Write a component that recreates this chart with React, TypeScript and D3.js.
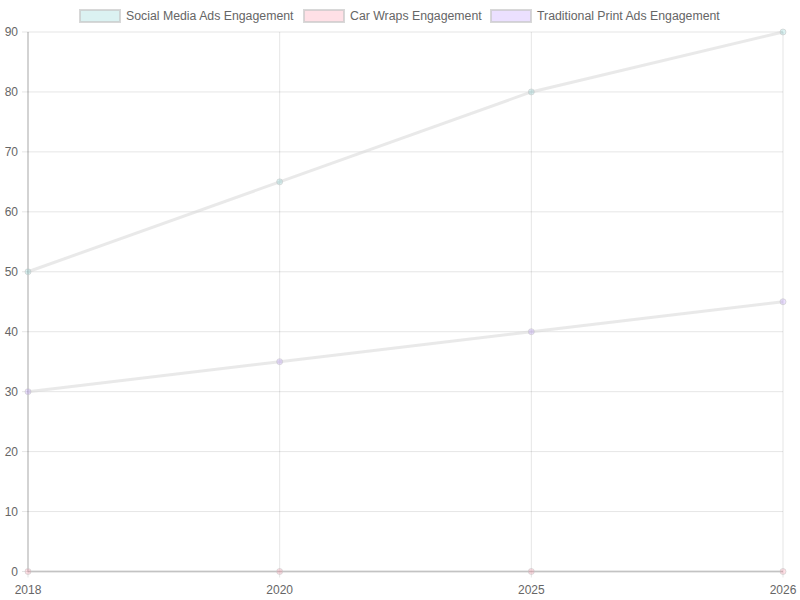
import * as d3 from "d3";

const years = ["2018", "2020", "2025", "2026"];
const socialMedia = [50, 65, 80, 90];
const carWraps = [0, 0, 0, 0];
const traditionalPrint = [30, 35, 40, 45];
const yTicks = [0, 10, 20, 30, 40, 50, 60, 70, 80, 90];

const seriesNames = ["Social Media Ads Engagement", "Car Wraps Engagement", "Traditional Print Ads Engagement"];
const seriesFills = ["rgba(75,192,192,0.2)", "rgba(255,99,132,0.2)", "rgba(153,102,255,0.2)"];
const seriesValues = [socialMedia, carWraps, traditionalPrint];

export default function App() {
  const width = 800;
  const height = 600;
  const margin = { top: 32, right: 17, bottom: 28.5, left: 28 };

  const x = d3
    .scalePoint<string>()
    .domain(years)
    .range([margin.left, width - margin.right]);

  const y = d3
    .scaleLinear()
    .domain([0, 90])
    .range([height - margin.bottom, margin.top]);

  const line = d3
    .line<number>()
    .x((_, i) => x(years[i])!)
    .y((d) => y(d));

  // legend item left edges
  const legendX = [80, 304, 491];

  return (
    <div style={{ position: "fixed", left: 0, top: 0 }}>
      <svg width={width} height={height} style={{ display: "block", fontFamily: "'Liberation Sans', Arial, sans-serif" }}>
        <rect width={width} height={height} fill="#fff" />
        {/* grid */}
        {yTicks.map((t) => (
          <line key={"gy" + t} x1={margin.left - 6} x2={width - margin.right} y1={y(t)} y2={y(t)} stroke="rgba(0,0,0,0.1)" />
        ))}
        {years.map((yr) => (
          <line key={"gx" + yr} x1={x(yr)} x2={x(yr)} y1={margin.top} y2={height - margin.bottom + 6} stroke="rgba(0,0,0,0.1)" />
        ))}
        <line x1={margin.left} x2={margin.left} y1={margin.top} y2={height - margin.bottom} stroke="rgba(0,0,0,0.25)" />
        <line x1={margin.left} x2={width - margin.right} y1={y(0)} y2={y(0)} stroke="rgba(0,0,0,0.25)" />
        {/* tick labels */}
        {yTicks.map((t) => (
          <text key={"ty" + t} x={margin.left - 10} y={y(t)} dy="0.35em" textAnchor="end" fontSize={12} fill="#666">
            {t}
          </text>
        ))}
        {years.map((yr) => (
          <text key={"tx" + yr} x={x(yr)} y={height - margin.bottom + 22} textAnchor="middle" fontSize={12} fill="#666">
            {yr}
          </text>
        ))}
        {/* lines */}
        {seriesValues.map((vals, si) => (
          <path key={"l" + si} d={line(vals)!} fill="none" stroke="rgba(215,215,215,0.55)" strokeWidth={3} />
        ))}
        {seriesValues.map((vals, si) =>
          vals.map((v, i) => (
            <circle
              key={"p" + si + i}
              cx={x(years[i])}
              cy={y(v)}
              r={3}
              fill={seriesFills[si]}
              stroke="rgba(200,200,200,0.6)"
              strokeWidth={1}
            />
          ))
        )}
        {/* legend */}
        {seriesNames.map((name, i) => (
          <g key={"lg" + i} transform={`translate(${legendX[i]},10)`}>
            <rect x={0} y={0} width={40} height={12} fill={seriesFills[i]} stroke="rgba(200,200,200,0.7)" strokeWidth={2} />
            <text x={46} y={6} dy="0.35em" fontSize={12.3} fill="#666">
              {name}
            </text>
          </g>
        ))}
      </svg>
    </div>
  );
}
